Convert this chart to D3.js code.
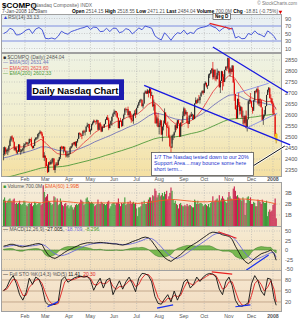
<!DOCTYPE html>
<html>
<head>
<meta charset="utf-8">
<script src="https://cdn.jsdelivr.net/npm/d3@7"></script>
<style>
  body { margin: 0; background: #fff; }
  svg { display: block; }
  text { font-family: 'Liberation Sans', Arial, sans-serif; }
</style>
</head>
<body>
<div id="chart"></div>
<script>
// daily bars, 3-Jan-2007 .. 7-Jan-2008 (open = prior close)
const closes = [
  2423,2453,2434,2438,2443,2459,2484,2502,2497,2479,2443,2451,2431,2432,2466,2435,2435,2441,2448,2463,
  2468,2475,2470,2471,2490,2488,2459,2450,2459,2488,2497,2497,2513,2518,2524,2515,2504,2407,2416,
  2404,2368,2340,2385,2375,2387,2387,2403,2350,2372,2379,2372,2395,2408,2455,2453,2448,2456,2437,2417,2417,2421,
  2422,2450,2458,2471,2469,2477,2460,2480,2491,2518,2516,2510,2505,2527,2524,2524,2547,2554,2557,2525,
  2531,2557,2565,2573,2571,2570,2577,2533,2562,2547,2525,2547,2546,2559,2578,2589,2578,2540,2557,2572,2592,2604,
  2613,2618,2611,2588,2541,2573,2572,2549,2582,2600,2627,2626,2627,2599,2617,2588,2577,2574,2605,2608,2603,
  2632,2644,2657,2667,2670,2640,2651,2701,2707,2697,2712,2699,2720,2688,2690,2640,2648,2599,2562,2584,2546,
  2553,2575,2511,2547,2561,2612,2556,2544,2543,2499,2458,2451,2505,2508,2521,2553,2541,2576,2562,2501,2565,2564,2596,
  2630,2605,2614,2566,2559,2597,2593,2602,2602,2582,2651,2667,2654,2671,2668,2683,2699,2709,2701,
  2741,2747,2730,2733,2780,2788,2803,2811,2772,2805,2780,2763,2792,2799,2726,2754,2799,2774,2750,2804,2818,2816,2859,
  2794,2811,2796,2825,2748,2696,2627,2584,2673,2645,2619,2637,2593,2596,2562,2597,2541,2580,2662,2668,2661,
  2637,2619,2666,2709,2706,2718,2652,2671,2668,2635,2575,2596,2601,2640,2691,2713,2724,2677,2674,2652,
  2610,2602,2503,2484
]
const highs = [
  2454,2457,2448,2445,2449,2463,2493,2504,2508,2497,2475,2455,2456,2440,2467,2466,2445,2445,2449,2472,
  2469,2478,2476,2476,2493,2491,2498,2461,2462,2492,2498,2499,2515,2520,2531,2526,2522,2500,2431,
  2414,2405,2375,2387,2390,2396,2402,2405,2400,2374,2386,2386,2398,2409,2456,2460,2458,2458,2454,2437,2433,2434,
  2426,2455,2459,2472,2477,2478,2481,2481,2492,2520,2522,2517,2511,2530,2533,2530,2548,2565,2560,2560,
  2537,2560,2571,2579,2578,2572,2580,2575,2564,2568,2557,2549,2556,2560,2582,2592,2600,2587,2561,2575,2593,2610,
  2625,2620,2618,2606,2587,2574,2587,2573,2583,2606,2632,2634,2628,2638,2620,2616,2607,2600,2606,2621,2626,
  2634,2647,2660,2670,2674,2667,2655,2702,2712,2710,2718,2702,2725,2717,2706,2688,2670,2655,2614,2592,2610,
  2565,2580,2576,2548,2575,2630,2596,2564,2570,2552,2510,2455,2510,2514,2525,2556,2566,2577,2578,2557,2567,2578,2616,
  2636,2620,2622,2591,2575,2598,2606,2614,2606,2597,2654,2680,2670,2676,2691,2683,2704,2712,2713,
  2745,2753,2743,2737,2787,2789,2804,2812,2841,2806,2808,2777,2811,2802,2787,2757,2801,2791,2786,2806,2822,2823,2861,
  2853,2817,2808,2826,2812,2763,2665,2644,2675,2702,2659,2641,2630,2620,2577,2597,2620,2582,2665,2675,2700,
  2664,2629,2669,2710,2714,2722,2731,2713,2676,2668,2628,2603,2623,2641,2692,2716,2727,2718,2694,2678,
  2661,2630,2591,2519
]
const lows = [
  2394,2415,2420,2424,2418,2430,2458,2478,2490,2475,2438,2437,2424,2422,2437,2431,2419,2430,2436,2426,
  2453,2467,2462,2461,2472,2478,2455,2447,2448,2460,2484,2488,2490,2503,2515,2510,2495,2405,2391,
  2360,2367,2336,2345,2372,2378,2376,2380,2349,2337,2366,2368,2374,2390,2400,2443,2444,2425,2434,2407,2408,2406,
  2408,2424,2447,2453,2463,2462,2456,2450,2474,2495,2508,2500,2490,2515,2518,2507,2523,2546,2540,2523,
  2512,2530,2553,2562,2566,2556,2560,2531,2534,2539,2522,2524,2541,2541,2558,2578,2576,2531,2541,2557,2551,2592,
  2605,2598,2592,2585,2540,2538,2568,2545,2551,2585,2612,2620,2611,2598,2589,2582,2565,2570,2560,2599,2586,
  2610,2633,2642,2654,2662,2639,2630,2655,2697,2695,2697,2680,2708,2675,2686,2636,2620,2562,2561,2549,2544,
  2512,2545,2510,2480,2530,2575,2555,2503,2540,2496,2455,2386,2470,2486,2495,2532,2531,2538,2560,2500,2505,2547,2580,
  2594,2596,2600,2561,2540,2562,2587,2595,2577,2577,2581,2656,2650,2660,2665,2652,2686,2698,2692,
  2700,2735,2725,2718,2750,2768,2786,2791,2761,2764,2757,2753,2762,2780,2725,2700,2768,2712,2730,2774,2805,2800,2809,
  2788,2774,2784,2796,2746,2664,2624,2583,2599,2636,2602,2603,2585,2558,2549,2570,2539,2525,2599,2650,2652,
  2633,2606,2628,2663,2698,2702,2647,2641,2638,2634,2574,2555,2588,2605,2660,2693,2703,2675,2657,2650,
  2598,2598,2502,2471
]
// volume, billions of shares
const volumes = [
  2.4,2.6,2.3,2.1,2.3,2.4,2.5,2.3,2.2,2.4,2.5,2.0,2.1,2.0,2.1,2.3,2.0,1.9,2.0,2.3,
  2.2,1.9,1.8,2.0,2.1,2.0,2.1,1.8,1.9,2.2,2.1,1.9,2.0,2.1,2.1,1.9,2.0,3.7,3.1,
  2.6,2.7,2.9,2.3,2.2,2.1,1.9,2.0,2.7,2.6,2.2,2.5,1.9,2.0,2.5,2.2,1.9,1.8,2.0,2.1,1.8,1.9,
  1.6,1.8,1.9,1.7,1.5,1.7,1.9,2.0,1.9,2.0,2.1,2.4,2.3,2.2,1.9,2.0,2.5,2.6,2.3,2.2,
  2.1,2.2,2.1,2.0,1.8,1.9,2.0,2.4,2.0,2.0,2.2,2.1,2.0,2.0,1.9,2.0,2.2,2.3,1.6,1.8,2.0,2.1,
  2.1,1.9,2.1,2.1,2.5,2.0,1.8,2.1,2.0,2.1,2.6,1.9,2.0,2.2,2.0,2.3,2.0,2.1,2.2,2.0,2.1,
  1.6,0.9,1.7,1.7,1.8,2.2,2.0,2.3,2.0,2.0,2.2,2.4,2.6,2.6,2.3,2.8,2.7,3.4,3.2,2.6,2.8,
  3.0,2.7,2.8,3.0,2.7,3.1,2.9,3.2,2.4,2.7,3.0,3.5,3.2,2.4,2.1,2.3,2.0,1.9,1.6,2.0,2.1,1.9,1.8,
  1.8,1.9,1.8,2.0,1.8,1.9,1.9,1.8,1.7,1.7,2.4,2.3,2.0,2.3,2.0,2.1,2.1,2.0,1.8,
  1.9,2.0,1.9,1.8,2.0,1.7,2.1,2.2,2.7,2.2,2.3,2.4,2.5,2.3,2.8,2.3,2.5,2.7,2.5,2.4,2.2,2.1,2.6,
  3.1,2.7,2.5,2.4,3.4,3.6,3.2,2.7,2.8,2.6,2.5,2.4,2.3,2.6,2.4,1.0,2.1,2.6,2.7,2.3,2.6,
  2.0,2.0,2.2,2.1,1.8,1.8,2.4,2.3,2.2,2.0,2.4,2.2,2.1,2.1,2.3,0.9,1.3,1.5,1.3,1.4,
  1.9,2.0,2.5,0.7
]
// moving averages read every 5 trading days
const ema20 = [2435,2440,2455,2455,2455,2465,2475,2490,2470,2445,2425,2420,2420,2430,2450,2475,2495,2520,2535,2548,
  2555,2570,2575,2590,2595,2605,2625,2650,2660,2640,2610,2580,2560,2550,2565,2575,2595,2625,2665,2705,
  2735,2755,2780,2770,2735,2700,2680,2670,2670,2660,2663,2624]
const ema50 = [2405,2410,2418,2424,2430,2437,2445,2455,2455,2448,2440,2437,2435,2437,2445,2455,2465,2478,2488,2498,
  2508,2520,2530,2542,2552,2562,2578,2595,2608,2606,2600,2590,2582,2578,2580,2584,2592,2605,2622,2642,
  2660,2676,2690,2692,2685,2672,2665,2660,2657,2650,2646,2631]
const ema200 = [2313,2319,2325,2332,2338,2345,2352,2359,2362,2363,2364,2366,2370,2376,2382,2388,2394,2401,2408,2416,
  2423,2431,2438,2446,2454,2463,2473,2482,2491,2497,2499,2500,2501,2504,2510,2516,2521,2528,2538,2549,
  2560,2571,2580,2583,2584,2585,2589,2592,2596,2599,2603,2602]
const volEma60 = [2.2,2.2,2.2,2.2,2.2,2.15,2.15,2.1,2.2,2.25,2.25,2.25,2.2,2.15,2.1,2.1,2.1,2.1,2.1,2.1,
  2.1,2.1,2.1,2.1,2.1,2.05,2.1,2.15,2.2,2.3,2.35,2.4,2.4,2.35,2.3,2.25,2.2,2.2,2.2,2.25,
  2.25,2.3,2.35,2.4,2.45,2.45,2.4,2.35,2.3,2.2,2.1,1.99]
// indicators read every 3 trading days
const rsi14 = [50,54,64,60,46,47,52,59,62,50,62,66,60,37,36,38,35,43,56,51,48,55,58,61,64,66,70,61,67,66,
  55,56,64,55,64,64,52,55,63,60,49,56,65,60,70,67,64,44,37,33,52,43,32,44,52,50,59,48,53,50,
  61,65,67,69,74,68,65,56,63,68,61,65,38,42,36,37,50,47,57,49,46,41,57,51,42,33]
const macdLine = [10,12,15,15,12,9,8,10,12,14,16,17,14,-2,-14,-20,-22,-18,-12,-6,-1,3,7,11,15,17,19,19,18,19,
  20,19,18,17,16,16,14,13,15,18,22,25,28,32,34,32,24,12,0,-10,-20,-26,-30,-24,-18,-12,-4,4,10,15,
  20,26,32,38,44,47,46,44,40,38,36,28,10,-5,-20,-30,-36,-30,-22,-16,-10,-7,-4,0,-10,-27]
const macdSignal = [8,9,11,12,13,12,11,10,10,11,12,14,15,11,4,-4,-10,-14,-15,-13,-10,-6,-2,2,6,10,13,15,17,18,
  18,19,19,18,17,16,15,14,14,15,17,19,22,25,29,31,30,25,17,8,-2,-10,-18,-22,-22,-19,-14,-8,-2,4,
  10,15,21,27,33,39,43,44,43,41,39,35,27,16,4,-8,-18,-24,-25,-23,-19,-15,-11,-7,-7,-19]
const stoK = [50,60,80,92,70,40,25,45,85,68,88,82,60,20,12,12,14,22,80,89,74,80,86,89,90,88,90,80,52,70,
  85,58,80,85,40,60,78,55,75,88,70,48,85,98,97,92,75,35,16,14,28,40,20,50,25,45,75,82,58,68,
  88,76,88,95,98,96,88,55,40,75,88,65,25,10,8,12,18,70,92,78,50,38,85,82,30,11]
const stoD = [52,55,68,82,80,58,38,38,60,70,80,82,70,45,25,15,13,16,45,75,82,80,82,86,89,89,89,85,68,66,
  74,70,72,80,62,55,62,62,68,78,78,62,68,85,95,95,85,58,32,20,20,30,28,38,35,38,58,75,70,66,
  76,80,84,90,95,96,92,75,55,60,75,75,50,25,12,10,13,38,70,80,68,50,60,78,55,20]

const monthLabels = ['Feb', 'Mar', 'Apr', 'May', 'Jun', 'Jul', 'Aug', 'Sep', 'Oct', 'Nov', 'Dec', '2008']
const monthStarts = [20, 39, 61, 81, 103, 124, 145, 168, 187, 210, 231, 251]
const priceTicks = [2350, 2400, 2450, 2500, 2550, 2600, 2650, 2700, 2750, 2800, 2850]
const rsiTicks = [10, 30, 50, 70, 90]
const volTicks = [1, 2, 3]
const macdTicks = [-50, -25, 0, 25, 50]
const stoTicks = [20, 50, 80]
const quoteFields = [['Open', '2514.15'], ['High', '2518.55'], ['Low', '2471.21'], ['Last', '2484.04'], ['Volume', '700.0M'], ['Chg', '-18.81 (-0.75%)']]
const lastOpen = 2514.15

// hand drawn lines, [trading day, value]
const priceLines = [
  { pts: [[195, 2909], [265, 2700]], color: '#1818e0', w: 1.3 },
  { pts: [[131, 2735], [267, 2464]], color: '#1818e0', w: 1.3 },
  { pts: [[217, 2699], [247, 2744]], color: '#7a82e8', w: 0.8 },
  { pts: [[226, 2540], [255, 2608]], color: '#7a82e8', w: 0.8 }
]
const rsiLines = [{ pts: [[192, 77], [213, 62]], color: '#e82020' }]
const macdLines = [
  { pts: [[200, 48], [217, 31]], color: '#e82020' },
  { pts: [[226, -53], [247, -13]], color: '#1830f0' }
]
const stoLines = [
  { pts: [[194, 102], [213, 96]], color: '#e82020' },
  { pts: [[41, 7], [51, 21]], color: '#1830f0' },
  { pts: [[143, 3], [158, 12]], color: '#1830f0' },
  { pts: [[216, 7], [230, 12]], color: '#1830f0' }
]

const W = 299, H = 320
const plotL = 1.5, plotR = 281.5
const lastDay = closes.length - 1
const x = d3.scaleLinear().domain([0, lastDay]).range([3.5, 276.2])
const atStep = (arr, step) => arr.map((v, i) => [Math.min(i * step, lastDay), v])

const svg = d3.select('#chart').append('svg').attr('width', W).attr('height', H)
  .style('background', '#fff')
const defs = svg.append('defs')

function panel(key, top, bottom, stops) {
  const grad = defs.append('linearGradient').attr('id', 'g-' + key)
    .attr('x1', 0).attr('y1', 0).attr('x2', 0).attr('y2', 1)
  stops.forEach((c, k) => grad.append('stop').attr('offset', k / (stops.length - 1)).attr('stop-color', c))
  defs.append('clipPath').attr('id', 'c-' + key).append('rect')
    .attr('x', plotL).attr('y', top).attr('width', plotR - plotL).attr('height', bottom - top)
  svg.append('rect')
    .attr('x', plotL).attr('y', top).attr('width', plotR - plotL).attr('height', bottom - top)
    .attr('fill', `url(#g-${key})`).attr('stroke', '#a0a0a0').attr('stroke-width', 1)
  const g = svg.append('g').attr('clip-path', `url(#c-${key})`)
  g.selectAll('line.month').data(monthStarts).enter().append('line')
    .attr('x1', d => x(d)).attr('x2', d => x(d)).attr('y1', top).attr('y2', bottom)
    .attr('stroke', '#b0b0b0').attr('stroke-width', 0.6).attr('stroke-dasharray', '1,1.5')
  return g
}

function hGrid(g, y, ticks, fmt, solid) {
  g.selectAll(null).data(ticks).enter().append('line')
    .attr('x1', plotL).attr('x2', plotR).attr('y1', d => y(d)).attr('y2', d => y(d))
    .attr('stroke', d => solid && solid[d] ? solid[d] : '#b0b0b0')
    .attr('stroke-width', d => solid && solid[d] ? 1 : 0.6)
    .attr('stroke-dasharray', d => solid && solid[d] ? null : '1,1.5')
  svg.append('g').selectAll('text').data(ticks).enter().append('text')
    .attr('x', 285).attr('y', d => y(d) + 2).attr('font-size', 5.6).attr('fill', '#555')
    .text(fmt)
}

function drawLines(g, list, xs, ys) {
  const line = d3.line().x(d => xs(d[0])).y(d => ys(d[1]))
  list.forEach(l => g.append('path').attr('d', line(l.pts)).attr('fill', 'none')
    .attr('stroke', l.color).attr('stroke-width', l.w || 1.2))
}

function legend(y, parts) {
  const t = svg.append('text').attr('x', 3).attr('y', y).attr('font-size', 5)
  parts.forEach(([s, c]) => t.append('tspan').attr('fill', c).text(s))
}

function dateLabels(y) {
  svg.append('g').selectAll('text').data(monthLabels).enter().append('text')
    .attr('x', (d, i) => x(monthStarts[i])).attr('y', y).attr('text-anchor', 'middle')
    .attr('font-size', 5.2).attr('fill', '#555')
    .attr('font-weight', d => d === '2008' ? 'bold' : null)
    .text(d => d)
}

// ---- header ----
svg.append('text').attr('x', 2).attr('y', 7.5).attr('font-size', 8).attr('font-weight', 'bold').text('$COMPQ')
svg.append('text').attr('x', 33).attr('y', 7).attr('font-size', 5).attr('fill', '#666').text('(Nasdaq Composite) INDX')
svg.append('text').attr('x', 297).attr('y', 5).attr('text-anchor', 'end').attr('font-size', 4.6).attr('fill', '#777').text('© StockCharts.com')
svg.append('text').attr('x', 2).attr('y', 12.8).attr('font-size', 4.9).attr('fill', '#444').text('7-Jan-2008 10:59am')
const q = svg.append('text').attr('x', 72).attr('y', 12.8).attr('font-size', 4.9)
quoteFields.forEach(([k, v]) => {
  q.append('tspan').attr('font-weight', 'bold').attr('fill', '#000').text(k + ' ')
  q.append('tspan').attr('fill', '#555').text(v + ' ')
})
const qEnd = q.node().getBBox()
svg.append('path').attr('d', d3.symbol(d3.symbolTriangle, 6)())
  .attr('transform', `translate(${qEnd.x + qEnd.width + 2},${qEnd.y + qEnd.height / 2 + 0.5}) rotate(180)`)
  .attr('fill', '#e00000')

// ---- RSI ----
const yRsi = d3.scaleLinear().domain([0, 100]).range([52.25, 14.75])
const gRsi = panel('rsi', 14.5, 52.5, ['#e7eef2', '#f3f6f2'])
hGrid(gRsi, yRsi, rsiTicks, d => d, { 70: '#7f8ee0', 30: '#7f8ee0' })
gRsi.append('path').datum(atStep(rsi14, 3))
  .attr('d', d3.line().x(d => x(d[0])).y(d => yRsi(d[1])))
  .attr('fill', 'none').attr('stroke', '#3646d6').attr('stroke-width', 0.9)
drawLines(svg, rsiLines, x, yRsi)
legend(19, [['▲', '#3646d6'], ['RSI(14) 33.13', '#555']])
svg.append('rect').attr('x', 213).attr('y', 13.3).attr('width', 17.5).attr('height', 6.2)
  .attr('fill', '#fff').attr('stroke', '#333').attr('stroke-width', 0.6)
svg.append('text').attr('x', 221.7).attr('y', 18.2).attr('text-anchor', 'middle').attr('font-size', 4.6)
  .attr('font-weight', 'bold').text('Neg D')

// ---- price ----
const yPrice = d3.scaleLinear().domain([2350, 2850]).range([170, 60])
const gMain = panel('main', 53.5, 176.5, ['#eef2e3', '#f2efcf', '#f5e0a2'])
hGrid(gMain, yPrice, priceTicks, d => d)
const emaLine = d3.line().x(d => x(d[0])).y(d => yPrice(d[1]))
gMain.append('path').attr('d', emaLine(atStep(ema200, 5))).attr('fill', 'none').attr('stroke', '#4f9a3a').attr('stroke-width', 0.9)
gMain.append('path').attr('d', emaLine(atStep(ema50, 5))).attr('fill', 'none').attr('stroke', '#7474b8').attr('stroke-width', 0.9)
gMain.append('path').attr('d', emaLine(atStep(ema20, 5))).attr('fill', 'none').attr('stroke', '#e84a4a').attr('stroke-width', 0.9)

const bars = closes.map((c, i) => ({
  i, c, h: highs[i], l: lows[i],
  o: i === lastDay ? lastOpen : (i ? closes[i - 1] : c),
  up: i === 0 || c >= closes[i - 1]
}))
const candle = gMain.selectAll('g.bar').data(bars).enter().append('g')
candle.append('line')
  .attr('x1', d => x(d.i)).attr('x2', d => x(d.i))
  .attr('y1', d => yPrice(d.h)).attr('y2', d => yPrice(d.l))
  .attr('stroke', d => d.i === lastDay ? '#b07800' : d.up ? '#2a2a2a' : '#e00000').attr('stroke-width', 0.7)
candle.append('rect')
  .attr('x', d => x(d.i) - (d.i === lastDay ? 1.3 : 0.55))
  .attr('width', d => d.i === lastDay ? 2.6 : 1.1)
  .attr('y', d => yPrice(Math.max(d.o, d.c)))
  .attr('height', d => Math.max(0.6, Math.abs(yPrice(d.o) - yPrice(d.c))))
  .attr('fill', d => d.i === lastDay ? '#f4c20d' : d.up ? '#2a2a2a' : '#e00000')

drawLines(svg, priceLines, x, yPrice)
legend(58.5, [['■ ', '#333'], ['$COMPQ (Daily) 2484.04', '#555']])
legend(64, [['— ', '#7474b8'], ['EMA(50) 2631.44', '#7474b8']])
legend(69.5, [['— ', '#e84a4a'], ['EMA(20) 2623.60', '#e84a4a']])
legend(75, [['— ', '#4f9a3a'], ['EMA(200) 2602.33', '#4f9a3a']])

// title box
svg.append('rect').attr('x', 26.7).attr('y', 79.3).attr('width', 97.3).attr('height', 20.7).attr('fill', '#1c1cb0')
svg.append('rect').attr('x', 31.7).attr('y', 84.3).attr('width', 87.3).attr('height', 11.4).attr('fill', '#fff')
svg.append('text').attr('x', 75.3).attr('y', 93.6).attr('text-anchor', 'middle')
  .attr('font-size', 9.4).attr('font-weight', 'bold').attr('fill', '#000').text('Daily Nasdaq Chart')

// note box with pointer
const pointer = d3.line().x(d => x(d[0])).y(d => yPrice(d[1]))([[229, 2358], [262, 2459]])
svg.append('path').attr('d', pointer).attr('stroke', '#fff').attr('stroke-width', 2.4).attr('fill', 'none')
svg.append('path').attr('d', pointer).attr('stroke', '#111').attr('stroke-width', 1).attr('fill', 'none')
svg.append('rect').attr('x', 151.5).attr('y', 152.5).attr('width', 102).attr('height', 23)
  .attr('fill', '#fff').attr('stroke', '#555').attr('stroke-width', 0.8)
const note = ['1/7  The Nasdaq tested down to our 20%', 'Support Area....may bounce some here', 'short term...']
svg.append('g').selectAll('text').data(note).enter().append('text')
  .attr('x', 154).attr('y', (d, k) => 158.5 + k * 6.3).attr('font-size', 5.3)
  .attr('fill', '#2233cc').text(d => d)

dateLabels(181)

// ---- volume ----
const yVol = d3.scaleLinear().domain([0, 3]).range([226, 193])
const gVol = panel('vol', 182.5, 226.5, ['#f6eedc', '#f3e2c4'])
hGrid(gVol, yVol, volTicks, d => d + 'B')
gVol.selectAll('rect.v').data(volumes).enter().append('rect')
  .attr('x', (d, i) => x(i) - 0.55).attr('width', 1.1)
  .attr('y', d => yVol(d)).attr('height', d => yVol(0) - yVol(d))
  .attr('fill', (d, i) => i === 0 || closes[i] >= closes[i - 1] ? '#3f9a3a' : '#c8204c')
gVol.append('path').datum(atStep(volEma60, 5))
  .attr('d', d3.line().x(d => x(d[0])).y(d => yVol(d[1])))
  .attr('fill', 'none').attr('stroke', '#f05a28').attr('stroke-width', 0.9)
legend(187.5, [['■ ', '#3f9a3a'], ['Volume 700.0M, ', '#555'], ['EMA(60) 1.99B', '#f05a28']])

// ---- MACD ----
const yMacd = d3.scaleLinear().domain([-50, 50]).range([269, 231])
const gMacd = panel('macd', 226.5, 270.5, ['#f6ead2', '#f2dfbc'])
hGrid(gMacd, yMacd, macdTicks, d => d)
const macdPts = atStep(macdLine, 3)
const sigPts = atStep(macdSignal, 3)
gMacd.append('path').datum(macdPts.map((p, k) => [p[0], p[1] - sigPts[k][1]]))
  .attr('d', d3.area().x(d => x(d[0])).y0(yMacd(0)).y1(d => yMacd(d[1])))
  .attr('fill', '#78b850').attr('stroke', '#3d7a2a').attr('stroke-width', 0.5)
gMacd.append('path').datum(sigPts)
  .attr('d', d3.line().x(d => x(d[0])).y(d => yMacd(d[1])))
  .attr('fill', 'none').attr('stroke', '#6a6ad8').attr('stroke-width', 0.9)
gMacd.append('path').datum(macdPts)
  .attr('d', d3.line().x(d => x(d[0])).y(d => yMacd(d[1])))
  .attr('fill', 'none').attr('stroke', '#111').attr('stroke-width', 0.9)
drawLines(svg, macdLines, x, yMacd)
legend(231, [['— ', '#111'], ['MACD(12,26,9) ', '#555'], ['-27.005, ', '#111'], ['-18.709, ', '#6a6ad8'], ['-8.296', '#3d9a2a']])

// ---- full stochastics ----
const ySto = d3.scaleLinear().domain([0, 100]).range([309.3, 272.7])
const gSto = panel('sto', 270.5, 311.5, ['#f7e8d2', '#f1dcc0'])
hGrid(gSto, ySto, stoTicks, d => d, { 80: '#c4a88c', 50: '#c4a88c', 20: '#c4a88c' })
gSto.append('path').datum(atStep(stoD, 3))
  .attr('d', d3.line().x(d => x(d[0])).y(d => ySto(d[1])))
  .attr('fill', 'none').attr('stroke', '#e02020').attr('stroke-width', 0.9)
gSto.append('path').datum(atStep(stoK, 3))
  .attr('d', d3.line().x(d => x(d[0])).y(d => ySto(d[1])))
  .attr('fill', 'none').attr('stroke', '#111').attr('stroke-width', 0.9)
drawLines(svg, stoLines, x, ySto)
legend(275.5, [['— ', '#111'], ['Full STO %K(14,3) %D(5) ', '#555'], ['11.41, ', '#111'], ['20.30', '#e02020']])

dateLabels(317.5)
</script>
</body>
</html>
